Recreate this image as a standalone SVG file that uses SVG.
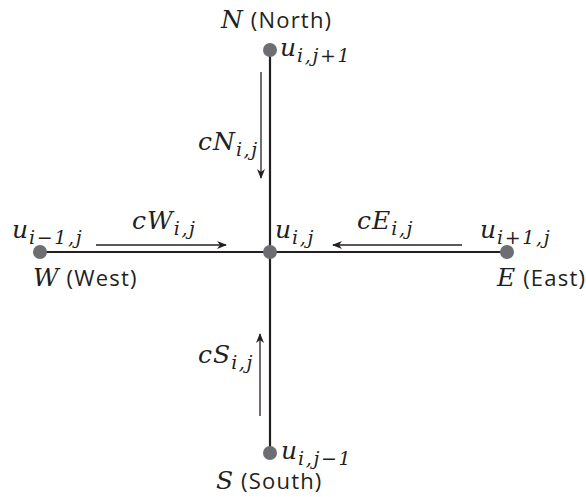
<svg xmlns="http://www.w3.org/2000/svg" width="586" height="497" viewBox="0 0 586 497">
<style>
.m{font-family:"DejaVu Serif","Liberation Serif",serif;font-style:italic;fill:#231f20}
.big{font-size:25px;letter-spacing:1px}
.sub{font-size:19px;letter-spacing:1.6px}
.t{font-family:"Open Sans","Liberation Sans",sans-serif;font-size:22px;letter-spacing:1.2px;fill:#231f20}
.axis{stroke:#231f20;stroke-width:2.2;fill:none}
.flux{stroke:#231f20;stroke-width:1.3;fill:none;marker-end:url(#ah)}
.node{fill:#6d6e71}
</style>
<defs>
<marker id="ah" viewBox="0 0 10 10" refX="9" refY="5" markerWidth="10" markerHeight="10" markerUnits="userSpaceOnUse" orient="auto">
<path d="M0,1 L10,5 L0,9 L3,5 Z" fill="#231f20"/>
</marker>
</defs>
<g id="connectors">
<line class="axis" x1="270" y1="50" x2="270" y2="453"/>
<line class="axis" x1="40" y1="252" x2="507" y2="252"/>
<line class="flux" x1="261" y1="72" x2="261" y2="178"/>
<line class="flux" x1="96" y1="245" x2="226" y2="245"/>
<line class="flux" x1="462" y1="245" x2="333" y2="245"/>
<line class="flux" x1="260" y1="416" x2="260" y2="334"/>
</g>
<g id="north">
<circle class="node" cx="270" cy="50" r="7"/>
<text x="221" y="28"><tspan class="m big">N</tspan><tspan class="t"> (North)</tspan></text>
<text class="m" x="280" y="56"><tspan class="big">u</tspan><tspan class="sub" dy="6">i,j+1</tspan></text>
</g>
<g id="west">
<circle class="node" cx="40" cy="252" r="7"/>
<text class="m" x="12" y="238"><tspan class="big">u</tspan><tspan class="sub" dy="6">i−1,j</tspan></text>
<text x="33" y="286"><tspan class="m big">W</tspan><tspan class="t"> (West)</tspan></text>
</g>
<g id="center">
<circle class="node" cx="270" cy="252" r="7"/>
<text class="m" x="275" y="238"><tspan class="big">u</tspan><tspan class="sub" dy="6">i,j</tspan></text>
</g>
<g id="east">
<circle class="node" cx="507" cy="252" r="7"/>
<text class="m" x="480" y="238"><tspan class="big">u</tspan><tspan class="sub" dy="6">i+1,j</tspan></text>
<text x="497" y="286"><tspan class="m big">E</tspan><tspan class="t"> (East)</tspan></text>
</g>
<g id="south">
<circle class="node" cx="270" cy="453" r="7"/>
<text class="m" x="281" y="459"><tspan class="big">u</tspan><tspan class="sub" dy="6">i,j−1</tspan></text>
<text x="216" y="489"><tspan class="m big">S</tspan><tspan class="t"> (South)</tspan></text>
</g>
<g id="labels">
<text class="m" x="198" y="150"><tspan class="big">cN</tspan><tspan class="sub" dy="6">i,j</tspan></text>
<text class="m" x="132" y="229"><tspan class="big">cW</tspan><tspan class="sub" dy="6">i,j</tspan></text>
<text class="m" x="357" y="229"><tspan class="big">cE</tspan><tspan class="sub" dy="6">i,j</tspan></text>
<text class="m" x="198" y="363"><tspan class="big">cS</tspan><tspan class="sub" dy="6">i,j</tspan></text>
</g>
</svg>
